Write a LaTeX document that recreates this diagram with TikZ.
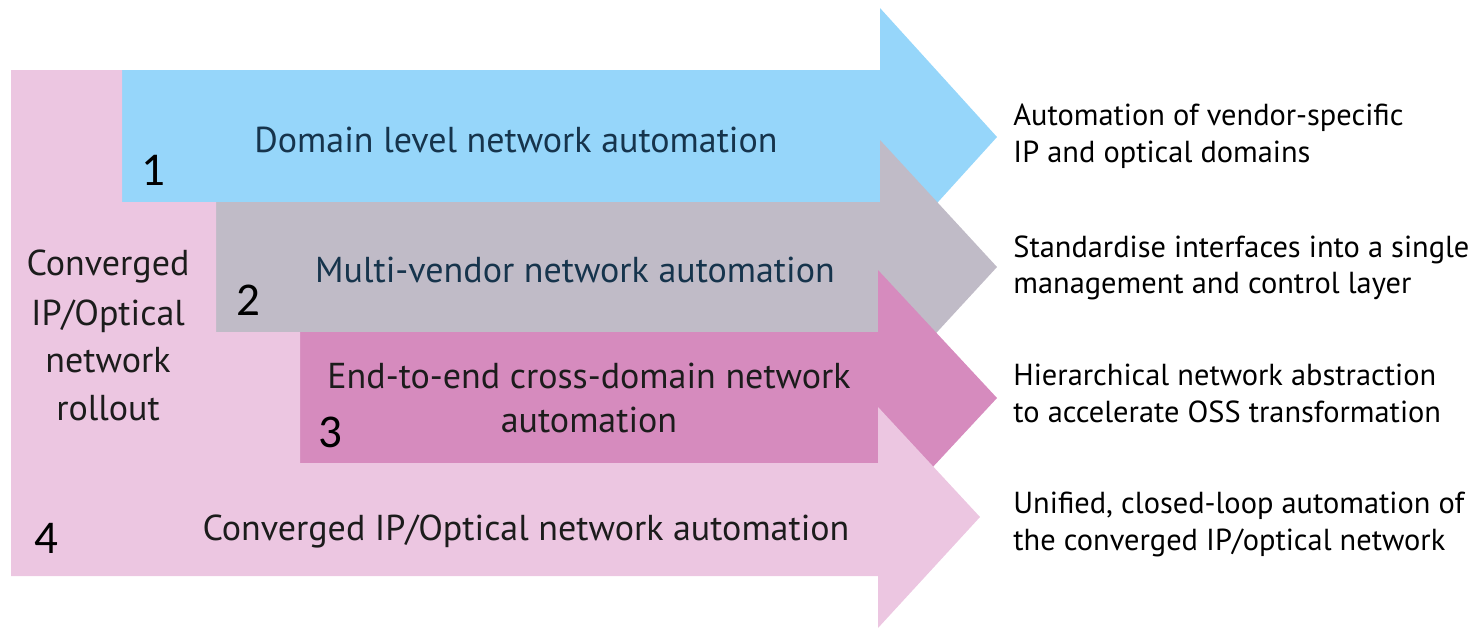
\documentclass[tikz,border=0pt]{standalone}
\usepackage{fontspec}
\setmainfont{PT Sans}
\newfontfamily\numfont{Carlito}
\definecolor{skyA}{RGB}{150,214,250}
\definecolor{greyB}{RGB}{192,187,199}
\definecolor{mauveC}{RGB}{214,139,190}
\definecolor{pinkD}{RGB}{236,198,225}
\definecolor{navytext}{RGB}{22,52,76}
\definecolor{darktext}{RGB}{28,28,28}
\tikzset{
  bandlabel/.style={anchor=base, inner sep=0pt, font=\fontsize{18}{22}\selectfont},
  steplabel/.style={anchor=base west, inner sep=0pt, font=\numfont\fontsize{23.5}{26}\selectfont, text=black},
  notelabel/.style={anchor=base west, inner sep=0pt, align=left, text=black,
    font=\fontsize{15.2}{18.5}\selectfont},
}
\begin{document}
\begin{tikzpicture}[x=0.5pt,y=-0.5pt]
\useasboundingbox (0,0) rectangle (1480,629);

% stage 1: domain level
\fill[skyA] (122,70) -- (880,70) -- (880,8) -- (997,137) -- (880,266)
  -- (880,202) -- (122,202) -- cycle;
% stage 2: multi-vendor
\fill[greyB] (216,202) -- (880,202) -- (880,140) -- (997,267) -- (880,394)
  -- (880,332) -- (216,332) -- cycle;
% stage 3: end-to-end
\fill[mauveC] (300,332) -- (878,332) -- (878,270) -- (997,398) -- (878,526)
  -- (878,463) -- (300,463) -- cycle;
% stage 4: converged, wrapping round the others on the left
\fill[pinkD] (11,70) -- (122,70) -- (122,202) -- (216,202) -- (216,332)
  -- (300,332) -- (300,463) -- (878,463) -- (878,407) -- (980,517)
  -- (878,628) -- (878,576) -- (11,576) -- cycle;

% labels inside the arrows
\node[bandlabel, text=navytext] (l1) at (516,152) {Domain level network automation};
\node[bandlabel, text=navytext] (l2) at (575,282) {Multi-vendor network automation};
\node[bandlabel, text=darktext] (l3a) at (589,388) {End-to-end cross-domain network};
\node[bandlabel, text=darktext] (l3b) at (589,432) {automation};
\node[bandlabel, text=darktext] (l4) at (526,540) {Converged IP/Optical network automation};

% rollout label on the left column
\node[bandlabel, text=darktext] (r1) at (108,275) {Converged};
\node[bandlabel, text=darktext] (r2) at (108,325) {IP/Optical};
\node[bandlabel, text=darktext] (r3) at (108,372) {network};
\node[bandlabel, text=darktext] (r4) at (108,420) {rollout};

% stage numbers
\node[steplabel] (n1) at (141,185) {1};
\node[steplabel] (n2) at (236,315) {2};
\node[steplabel] (n3) at (318,447) {3};
\node[steplabel] (n4) at (34,553) {4};

% notes on the right
\node[notelabel] (d1a) at (1013,125) {Automation of vendor-specific};
\node[notelabel] (d1b) at (1013,162) {IP and optical domains};
\node[notelabel] (d2a) at (1013,257) {Standardise interfaces into a single};
\node[notelabel] (d2b) at (1013,293) {management and control layer};
\node[notelabel] (d3a) at (1013,385) {Hierarchical network abstraction};
\node[notelabel] (d3b) at (1013,422) {to accelerate OSS transformation};
\node[notelabel] (d4a) at (1013,513) {Unified, closed-loop automation of};
\node[notelabel] (d4b) at (1013,550) {the converged IP/optical network};
\end{tikzpicture}
\end{document}
